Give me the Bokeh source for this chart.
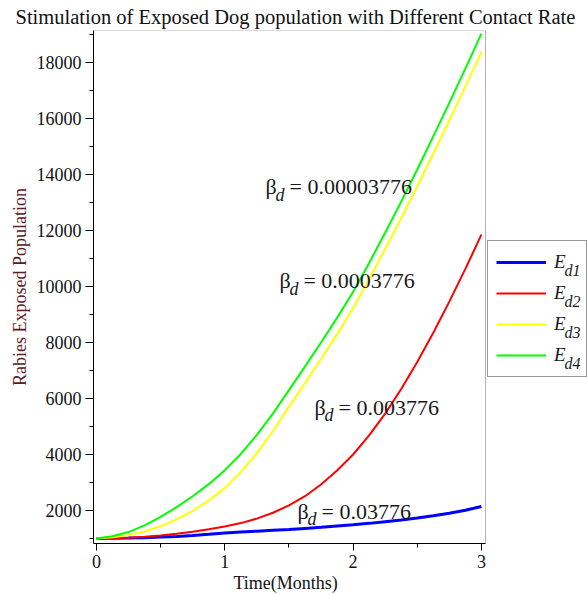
from bokeh.plotting import figure
from bokeh.models import (Range1d, SingleIntervalTicker, Legend, LegendItem, Label,
                          BoxAnnotation, Title)
from bokeh.core.properties import value
from bokeh.embed import file_html
from bokeh.resources import INLINE

# Exposed dog population (E_d) over time for four contact rates beta_d
months = [0, 0.125, 0.25, 0.375, 0.5, 0.625, 0.75, 0.875, 1.0,
          1.125, 1.25, 1.375, 1.5, 1.625, 1.75, 1.875, 2.0,
          2.125, 2.25, 2.375, 2.5, 2.625, 2.75, 2.875, 3.0]
ed1 = [1000, 1005, 1015, 1030, 1050, 1075, 1110, 1150, 1195,
       1230, 1260, 1290, 1320, 1360, 1400, 1445, 1490,
       1540, 1600, 1660, 1730, 1810, 1900, 2010, 2140]
ed2 = [1000, 1010, 1030, 1065, 1110, 1170, 1240, 1330, 1430,
       1550, 1710, 1920, 2180, 2510, 2930, 3430, 4000,
       4680, 5460, 6340, 7300, 8350, 9460, 10630, 11850]
ed3 = [1000, 1040, 1120, 1250, 1440, 1680, 1990, 2360, 2800,
       3370, 4050, 4830, 5700, 6550, 7410, 8290, 9220,
       10260, 11340, 12440, 13580, 14740, 15930, 17140, 18370]
ed4 = [1000, 1080, 1230, 1470, 1770, 2120, 2510, 2940, 3440,
       4020, 4700, 5460, 6300, 7140, 8000, 8880, 9800,
       10840, 11920, 13030, 14180, 15360, 16560, 17780, 19030]

series_names = ["d1", "d2", "d3", "d4"]
series_colors = ["#0000ff", "#ff0000", "#ffff00", "#00ff00"]
series_widths = [3, 2, 2, 2]

beta_labels = ["0.00003776", "0.0003776", "0.003776", "0.03776"]
# anchor (month, population) of each beta_d label
beta_anchor_t = [1.317, 1.426, 1.699, 1.567]
beta_anchor_v = [13570, 10210, 5690, 1975]

x_ticks_interval = 1
y_ticks_interval = 2000

SERIF = "Liberation Serif"

# data box of the chart; the canvas area right of it holds the legend
T_MIN, T_MAX = -0.0234, 3.032
V_MIN, V_MAX = 821, 19143
T_CANVAS_MAX = 3.827

p = figure(width=587, height=595, output_backend="svg", toolbar_location=None,
           x_range=Range1d(T_MIN, T_CANVAS_MAX), y_range=Range1d(V_MIN, V_MAX),
           min_border_left=93, min_border_right=0, min_border_top=30,
           min_border_bottom=52)

p.title.text = "Stimulation of Exposed Dog population with Different Contact Rate"
p.title.text_font = SERIF
p.title.text_font_size = "20.5px"
p.title.text_font_style = "normal"
p.title.text_color = "#111111"
p.title.align = "left"
p.title.offset = -78
p.title.standoff = 5

p.outline_line_color = None
p.xgrid.visible = False
p.ygrid.visible = False
p.background_fill_color = "white"
p.border_fill_color = "white"

for ax, interval in ((p.xaxis[0], x_ticks_interval), (p.yaxis[0], y_ticks_interval)):
    ax.ticker = SingleIntervalTicker(interval=interval, num_minor_ticks=2)
    ax.axis_line_color = "#000000"
    ax.major_tick_line_color = "#000000"
    ax.minor_tick_line_color = "#000000"
    ax.major_tick_in = 0
    ax.minor_tick_in = 0
    ax.major_label_text_font = SERIF
    ax.major_label_text_font_size = "18px"
    ax.major_label_text_color = "#111111"
    ax.axis_label_text_font = SERIF
    ax.axis_label_text_font_size = "18px"
    ax.axis_label_text_font_style = "normal"

p.xaxis.bounds = (T_MIN, T_MAX)
p.xaxis.major_tick_out = 7
p.xaxis.minor_tick_out = 4
p.yaxis.major_tick_out = 8
p.yaxis.minor_tick_out = 4
p.xaxis.major_label_standoff = 4
p.yaxis.major_label_standoff = 4
p.yaxis.axis_label = "Rabies Exposed Population"
p.yaxis.axis_label_standoff = 4
p.yaxis.axis_label_text_color = "#5a2020"

# x-axis caption centred under the data box (not under the legend)
p.add_layout(Title(text="Time(Months)", text_font=SERIF, text_font_size="18px",
                   text_font_style="normal", text_color="#111111",
                   align="left", offset=140, standoff=0), "below")

# box around the data area
p.add_layout(BoxAnnotation(left=T_MIN, right=T_MAX, bottom=V_MIN, top=V_MAX,
                           fill_alpha=0, line_color="#000000", line_width=1))

renderers = []
for ys, c, w in zip([ed1, ed2, ed3, ed4], series_colors, series_widths):
    r = p.line(months, ys, line_color=c, line_width=w)
    renderers.append(r)

# pixel helpers for placing annotations
X0_PX, T_PER_PX = 96.0, 1 / 128.3
Y0_PX, V_PER_PX = 510.0, 1000 / 28.0


def px2t(px):
    return (px - X0_PX) * T_PER_PX


def py2v(py):
    return 2000 + (Y0_PX - py) * V_PER_PX


# beta_d annotations: beta, italic subscript d, then "= value"
for lab, t, v in zip(beta_labels, beta_anchor_t, beta_anchor_v):
    common = dict(x=t, y=v, text_font=SERIF, text_color="#1a1a1a",
                  text_baseline="alphabetic", text_align="left")
    p.add_layout(Label(text="\u03b2", text_font_size="22px", **common))
    p.add_layout(Label(text="d", text_font_size="18px", text_font_style="italic",
                       x_offset=10, y_offset=-8, **common))
    p.add_layout(Label(text="= " + lab, text_font_size="22px", x_offset=24, **common))

# legend just right of the data box
legend = Legend(
    items=[LegendItem(label=value("E"), renderers=[r]) for r in renderers],
    location=(394, 166), orientation="vertical",
    label_text_font=SERIF, label_text_font_style="italic",
    label_text_font_size="19px", label_text_color="#1a1a1a",
    glyph_width=50, glyph_height=26, label_height=26, label_width=24,
    label_standoff=8, spacing=5, padding=8, margin=0,
    border_line_color="#333333", border_line_width=1,
    background_fill_alpha=0,
)
p.add_layout(legend, "center")

# subscripts of the legend labels
legend_line_py = [261, 292, 323, 354]
for name, lp in zip(series_names, legend_line_py):
    p.add_layout(Label(x=px2t(564), y=py2v(lp + 9), text=name,
                       text_font=SERIF, text_font_style="italic",
                       text_font_size="16px", text_color="#1a1a1a",
                       text_baseline="alphabetic"))

open("out.html", "w").write(file_html(p, INLINE))
